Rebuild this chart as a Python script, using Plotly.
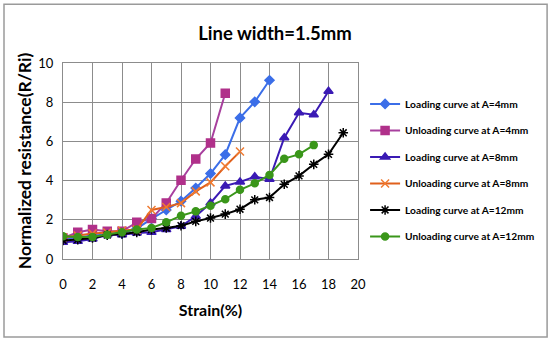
import plotly.graph_objects as go

strain = list(range(0, 20))

load_4mm = [1.05, 1.1, 1.2, 1.25, 1.3, 1.55, 2.05, 2.5, 2.95, 3.62, 4.36, 5.32, 7.2, 8.02, 9.12]
unload_4mm = [1.07, 1.36, 1.5, 1.41, 1.41, 1.87, 2.06, 2.86, 4.02, 5.1, 5.92, 8.46]
load_8mm = [0.85, 0.9, 1.02, 1.24, 1.24, 1.33, 1.36, 1.5, 1.67, 2.18, 2.86, 3.73, 3.93, 4.2, 4.07, 6.19, 7.46, 7.36, 8.56]
unload_8mm = [1.1, 1.2, 1.3, 1.35, 1.45, 1.5, 2.5, 2.65, 2.85, 3.45, 3.91, 4.73, 5.48]
load_12mm = [0.95, 0.99, 1.07, 1.22, 1.28, 1.36, 1.5, 1.58, 1.7, 1.92, 2.09, 2.29, 2.54, 3.02, 3.14, 3.81, 4.24, 4.83, 5.34, 6.44]
unload_12mm = [1.16, 1.12, 1.12, 1.24, 1.36, 1.5, 1.58, 1.87, 2.21, 2.43, 2.72, 3.05, 3.53, 3.86, 4.29, 5.12, 5.34, 5.81]

x_ticks = list(range(0, 21, 2))
y_ticks = list(range(0, 11, 2))

series = [
    ("Loading curve at A=4mm", load_4mm, "#3b6ee8", "diamond", 7, "#3b6ee8"),
    ("Unloading curve at A=4mm", unload_4mm, "#a8409e", "square", 8, "#b0308a"),
    ("Loading curve at A=8mm", load_8mm, "#3a1ab4", "triangle-up", 8, "#3a1ab4"),
    ("Unloading curve at A=8mm", unload_8mm, "#e0601c", "x-thin-open", 8, "#f07a30"),
    ("Loading curve at A=12mm", load_12mm, "#000000", "asterisk-open", 8, "#000000"),
    ("Unloading curve at A=12mm", unload_12mm, "#3a961a", "circle", 7, "#3a961a"),
]

FONT = "Lato, Liberation Sans, Arial, sans-serif"

fig = go.Figure()
for i, (name, vals, lc, sym, size, mc) in enumerate(series):
    fig.add_trace(go.Scatter(
        x=strain[:len(vals)], y=vals, name=f"<b>{name}</b>", mode="lines+markers",
        legendgroup=f"g{i}",
        line=dict(color=lc, width=2),
        marker=dict(symbol=sym, size=size, color=mc, line=dict(color=mc, width=1.5)),
    ))

fig.update_layout(
    width=550, height=341,
    margin=dict(l=63, r=192, t=63, b=82, autoexpand=False),
    paper_bgcolor="white", plot_bgcolor="white",
    title=dict(text="<b>Line width=1.5mm</b>", x=0.5, xanchor="center", y=0.903, yanchor="middle",
               font=dict(family=FONT, size=18.5, color="black")),
    showlegend=True,
    legend=dict(x=1.024, xanchor="left", y=0.865, yanchor="top",
                font=dict(family=FONT, size=10.2, color="black"),
                tracegroupgap=7.5, traceorder="grouped",
                itemwidth=30, bgcolor="rgba(0,0,0,0)"),
    font=dict(family=FONT, color="black"),
    shapes=[dict(type="rect", xref="paper", yref="paper",
                 x0=-0.2, x1=1.641, y0=-0.398, y1=1.3,
                 line=dict(color="#9a9a9a", width=1.5))],
)
fig.update_xaxes(range=[0, 20], tickvals=x_ticks, showgrid=True, gridcolor="#8c8c8c", gridwidth=1,
                 showline=True, linecolor="#8c8c8c", mirror=True, zeroline=False, ticks="",
                 automargin=False, ticklabelstandoff=13,
                 tickfont=dict(family=FONT, size=13, color="black"),
                 title=dict(text="<b>Strain(%)</b>", font=dict(family=FONT, size=16, color="black"), standoff=14))
fig.update_yaxes(range=[0, 10], tickvals=y_ticks, showgrid=True, gridcolor="#8c8c8c", gridwidth=1,
                 showline=True, linecolor="#8c8c8c", mirror=True, zeroline=False, ticks="",
                 automargin=False, ticklabelstandoff=6,
                 tickfont=dict(family=FONT, size=13, color="black"),
                 title=dict(text="<b>Normalized resistance(R/Ri)</b>", font=dict(family=FONT, size=17.5, color="black"), standoff=2))

fig.write_html("out.html", config={"displayModeBar": False},
               post_script="document.body.style.margin='0px';")
